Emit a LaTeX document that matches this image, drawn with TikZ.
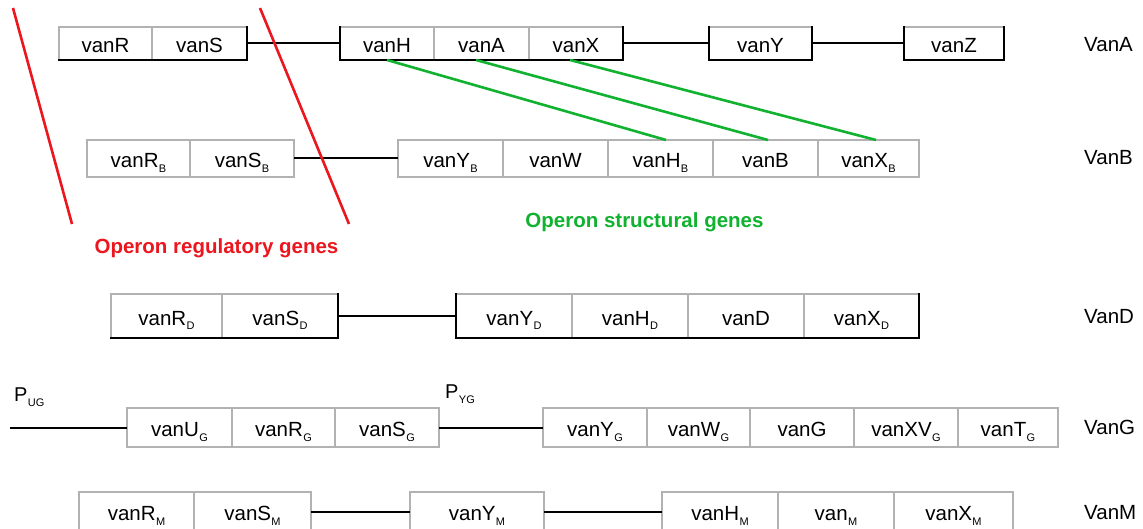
\documentclass[tikz,border=0pt]{standalone}
\usepackage{fontspec}
\setmainfont{Liberation Sans}
\definecolor{boxgray}{RGB}{178,178,178}
\definecolor{opgreen}{RGB}{16,178,48}
\definecolor{opred}{RGB}{236,22,30}
% small lowered subscript used in gene names
\newcommand\gsub[1]{\kern0.4pt\raisebox{-5pt}{\fontsize{11}{11}\selectfont #1}}
% a box whose top/left edges are grey and bottom/right edges black
\newcommand\edgebox[1]{%
  \draw[greyedge] (#1.south west) -- (#1.north west) -- (#1.north east);
  \draw[blackedge] (#1.north east) -- (#1.south east) -- (#1.south west);}
\newcommand\blackleft[1]{\draw[blackedge] (#1.south west) -- (#1.north west);}
\tikzset{
  gene/.style={inner sep=0pt, outer sep=0pt, minimum height=#1,
    text height=18pt, text depth=0pt, font=\fontsize{20.5}{20.5}\selectfont},
  greygene/.style={gene=#1, draw=boxgray, line width=2pt},
  greyedge/.style={draw=boxgray, line width=2pt, line cap=rect},
  blackedge/.style={draw=black, line width=2pt, line cap=rect},
  link/.style={draw=black, line width=2pt},
  greenlink/.style={draw=opgreen, line width=2.6pt},
  redlink/.style={draw=opred, line width=2.6pt},
  rowlabel/.style={anchor=west, inner sep=0pt, font=\fontsize{20.5}{20.5}\selectfont},
  promoter/.style={anchor=west, inner sep=0pt, font=\fontsize{20}{20}\selectfont},
  caption/.style={inner sep=0pt, font=\bfseries\fontsize{20.5}{20.5}\selectfont},
}
\begin{document}
\begin{tikzpicture}[x=1pt, y=-1pt]
\clip (0,0) rectangle (1143,529);
\fill[white] (0,0) rectangle (1143,529);

% ---------------- VanA ----------------
\node[gene=33pt, minimum width=93pt]  (vanR) at (105.5,43.5) {vanR};
\node[gene=33pt, minimum width=95pt]  (vanS) at (199.5,43.5) {vanS};
\node[gene=33pt, minimum width=94pt]  (vanH) at (387,43.5)   {vanH};
\node[gene=33pt, minimum width=95pt]  (vanA) at (481.5,43.5) {vanA};
\node[gene=33pt, minimum width=94pt]  (vanX) at (576,43.5)   {vanX};
\node[gene=33pt, minimum width=103pt] (vanY) at (760.5,43.5) {vanY};
\node[gene=33pt, minimum width=100pt] (vanZ) at (954,43.5)   {vanZ};
\foreach \n in {vanR,vanS,vanH,vanA,vanX,vanY,vanZ} {\edgebox{\n}}
\foreach \n in {vanH,vanY,vanZ} {\blackleft{\n}}
\draw[link] (vanS.east) -- (vanH.west);
\draw[link] (vanX.east) -- (vanY.west);
\draw[link] (vanY.east) -- (vanZ.west);
\node[rowlabel] (labA) at (1084,45) {VanA};

% ---------------- VanB ----------------
\node[greygene=37pt, minimum width=103pt] (vanRB) at (138.5,158.5) {vanR\gsub{B}};
\node[greygene=37pt, minimum width=104pt] (vanSB) at (242,158.5)   {vanS\gsub{B}};
\node[greygene=37pt, minimum width=105pt] (vanYB) at (450.5,158.5) {vanY\gsub{B}};
\node[greygene=37pt, minimum width=105pt] (vanW)  at (555.5,158.5) {vanW};
\node[greygene=37pt, minimum width=105pt] (vanHB) at (660.5,158.5) {vanH\gsub{B}};
\node[greygene=37pt, minimum width=105pt] (vanB)  at (765.5,158.5) {vanB};
\node[greygene=37pt, minimum width=101pt] (vanXB) at (868.5,158.5) {vanX\gsub{B}};
\draw[link] (vanSB.east) -- (vanYB.west);
\node[rowlabel] (labB) at (1084,158) {VanB};

% homologous structural genes of VanA and VanB
\draw[greenlink] (vanH.south) -- ([xshift=5.5pt]vanHB.north);
\draw[greenlink] ([xshift=-5.5pt]vanA.south) -- ([xshift=2.5pt]vanB.north);
\draw[greenlink] ([xshift=-6pt]vanX.south) -- ([xshift=7.5pt]vanXB.north);
\node[caption, text=opgreen] (structural) at (644.5,222) {Operon structural genes};

% regulatory region brackets
\coordinate (r1a) at (13,8);  \coordinate (r1b) at (72,224);
\coordinate (r2a) at (260,8); \coordinate (r2b) at (349,224);
\draw[redlink] (r1a) -- (r1b);
\draw[redlink] (r2a) -- (r2b);
\node[caption, text=opred] (regulatory) at (216.5,248) {Operon regulatory genes};

% ---------------- VanD ----------------
\node[gene=43pt, minimum width=111pt] (vanRD) at (166.5,316) {vanR\gsub{D}};
\node[gene=43pt, minimum width=116pt] (vanSD) at (280,316)   {vanS\gsub{D}};
\node[gene=43pt, minimum width=116pt] (vanYD) at (514,316)   {vanY\gsub{D}};
\node[gene=43pt, minimum width=116pt] (vanHD) at (630,316)   {vanH\gsub{D}};
\node[gene=43pt, minimum width=116pt] (vanD)  at (746,316)   {vanD};
\node[gene=43pt, minimum width=115pt] (vanXD) at (861.5,316) {vanX\gsub{D}};
\foreach \n in {vanRD,vanSD,vanYD,vanHD,vanD,vanXD} {\edgebox{\n}}
\blackleft{vanYD}
\draw[link] (vanSD.east) -- (vanYD.west);
\node[rowlabel] (labD) at (1084,317) {VanD};

% ---------------- VanG ----------------
\coordinate (gstart) at (10,427.5);
\node[promoter] (pug) at (14,397) {P\gsub{UG}};
\node[greygene=39pt, minimum width=105pt] (vanUG)  at (179.5,427.5) {vanU\gsub{G}};
\node[greygene=39pt, minimum width=103pt] (vanRG)  at (283.5,427.5) {vanR\gsub{G}};
\node[greygene=39pt, minimum width=104pt] (vanSG)  at (387,427.5)   {vanS\gsub{G}};
\node[promoter] (pyg) at (445,394) {P\gsub{YG}};
\node[greygene=39pt, minimum width=104pt] (vanYG)  at (595,427.5)   {vanY\gsub{G}};
\node[greygene=39pt, minimum width=103pt] (vanWG)  at (698.5,427.5) {vanW\gsub{G}};
\node[greygene=39pt, minimum width=104pt] (vanG)   at (802,427.5)   {vanG};
\node[greygene=39pt, minimum width=104pt] (vanXVG) at (906,427.5)   {vanXV\gsub{G}};
\node[greygene=39pt, minimum width=100pt] (vanTG)  at (1008,427.5)  {vanT\gsub{G}};
\draw[link] (gstart) -- (vanUG.west);
\draw[link] (vanSG.east) -- (vanYG.west);
\node[rowlabel] (labG) at (1084,427) {VanG};

% ---------------- VanM ----------------
\node[greygene=39pt, minimum width=115pt] (vanRM) at (136.5,511.5) {vanR\gsub{M}};
\node[greygene=39pt, minimum width=117pt] (vanSM) at (252.5,511.5) {vanS\gsub{M}};
\node[greygene=39pt, minimum width=134pt] (vanYM) at (477,511.5)   {vanY\gsub{M}};
\node[greygene=39pt, minimum width=116pt] (vanHM) at (720,511.5)   {vanH\gsub{M}};
\node[greygene=39pt, minimum width=116pt] (vanMM) at (836,511.5)   {van\gsub{M}};
\node[greygene=39pt, minimum width=119pt] (vanXM) at (953.5,511.5) {vanX\gsub{M}};
\draw[link] (vanSM.east) -- (vanYM.west);
\draw[link] (vanYM.east) -- (vanHM.west);
\node[rowlabel] (labM) at (1084,513) {VanM};
\end{tikzpicture}
\end{document}
